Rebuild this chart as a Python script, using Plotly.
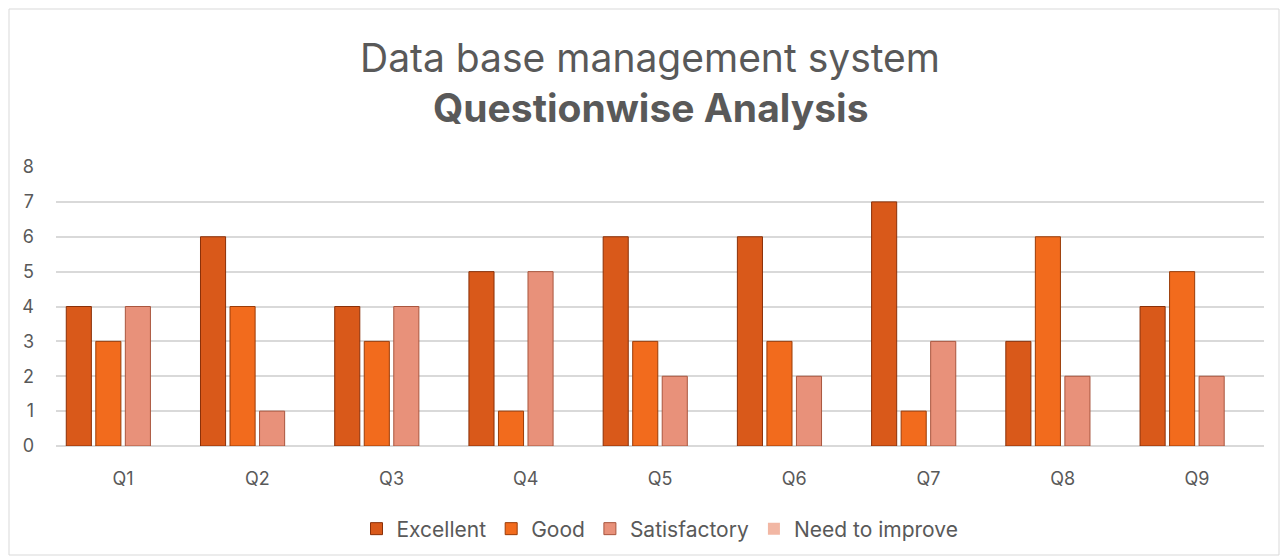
import plotly.graph_objects as go

categories = ["Q1", "Q2", "Q3", "Q4", "Q5", "Q6", "Q7", "Q8", "Q9"]
excellent = [4, 6, 4, 5, 6, 6, 7, 3, 4]
good = [3, 4, 3, 1, 3, 3, 1, 6, 5]
satisfactory = [4, 1, 4, 5, 2, 2, 3, 2, 2]
need_to_improve = [0, 0, 0, 0, 0, 0, 0, 0, 0]

series = [
    ("Excellent", excellent, "#D9591A", "#8A3008", 1),
    ("Good", good, "#F26B1D", "#9A3C08", 1),
    ("Satisfactory", satisfactory, "#E8917A", "#A9563E", 1),
    ("Need to improve", need_to_improve, "#F2B7A4", "#B77C69", 0),
]

fig = go.Figure()
for name, vals, col, line, lw in series:
    fig.add_trace(go.Bar(
        x=categories, y=vals, name=name,
        marker=dict(color=col, line=dict(color=line, width=lw)),
    ))

W, H = 1281, 558
ml, mr, mt, mb = 56, 17, 167, 0
pw, ph = W - ml - mr, H - mt - mb
plot_bottom_px = 446

def px2x(px):
    return (px - ml) / pw

def py2y(py):
    return (H - mb - py) / ph

fig.update_layout(
    width=W, height=H,
    margin=dict(l=ml, r=mr, t=mt, b=mb, pad=0),
    paper_bgcolor="white", plot_bgcolor="white",
    font=dict(family="Inter, Open Sans, sans-serif", color="#595959", size=17),
    barmode="group", bargap=0.12, bargroupgap=0.15,
    showlegend=True,
    legend=dict(orientation="h", x=0.5, xanchor="center",
                y=py2y(529), yanchor="middle",
                font=dict(size=21, color="#595959"),
                itemwidth=30, traceorder="normal"),
    xaxis=dict(showgrid=False, showline=False, ticks="",
               ticklabelstandoff=20, automargin=False,
               tickfont=dict(size=18, color="#595959")),
    yaxis=dict(range=[0, 8], dtick=1, showgrid=True, gridcolor="#D9D9D9",
               domain=[py2y(plot_bottom_px), 1], automargin=False,
               gridwidth=1.5, zeroline=True, zerolinecolor="#D9D9D9", zerolinewidth=1.5,
               ticklabelstandoff=21, tickfont=dict(size=18, color="#595959")),
    annotations=[
        dict(text="Data base management system", x=px2x(650), y=py2y(57),
             xref="paper", yref="paper", showarrow=False,
             xanchor="center", yanchor="middle",
             font=dict(size=39, color="#595959")),
        dict(text="<b>Questionwise Analysis</b>", x=px2x(650), y=py2y(108),
             xref="paper", yref="paper", showarrow=False,
             xanchor="center", yanchor="middle",
             font=dict(size=39, color="#595959")),
    ],
    shapes=[
        dict(type="rect", xref="paper", yref="paper",
             x0=px2x(9), x1=px2x(1279), y0=py2y(555), y1=py2y(9),
             line=dict(color="#D9D9D9", width=1), layer="below"),
    ],
)

fig.write_html("out.html", config={"displayModeBar": False},
               post_script="document.body.style.margin='0';document.body.style.overflow='hidden';")
